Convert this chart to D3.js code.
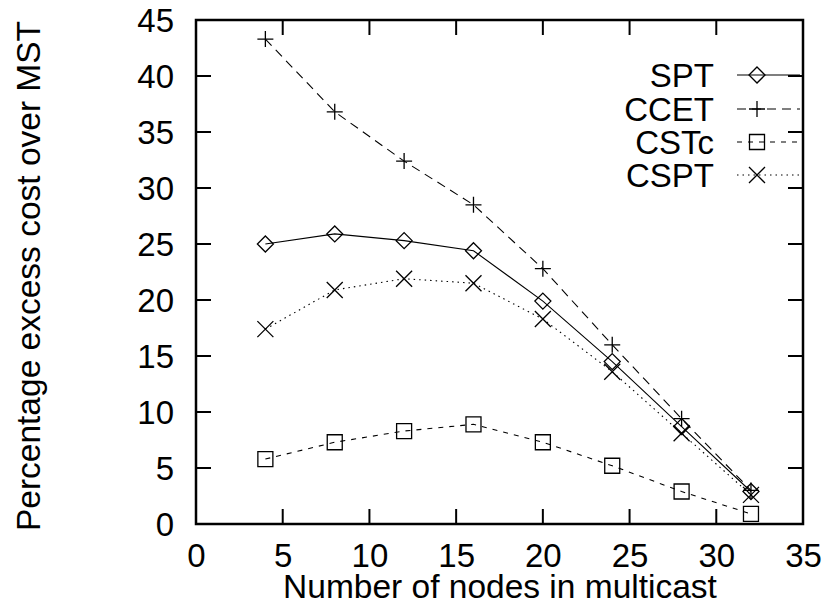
<!DOCTYPE html>
<html><head><meta charset="utf-8">
<script src="https://cdn.jsdelivr.net/npm/d3@7"></script>
<style>body{margin:0;background:#fff}svg{display:block}text{font-family:"Liberation Sans",Arial,sans-serif;fill:#000}</style>
</head><body><svg id="c" width="824" height="606"></svg>
<script>
const nodes = [4, 8, 12, 16, 20, 24, 28, 32];
const spt  = [25.0, 25.9, 25.3, 24.4, 19.9, 14.5, 8.7, 2.9];
const ccet = [43.3, 36.8, 32.4, 28.5, 22.8, 16.0, 9.4, 3.0];
const cstc = [5.8, 7.3, 8.3, 8.9, 7.3, 5.2, 2.9, 0.9];
const cspt = [17.4, 20.9, 21.9, 21.5, 18.3, 13.6, 8.1, 2.6];
const seriesNames = ["SPT", "CCET", "CSTc", "CSPT"];
const xTicks = [0, 5, 10, 15, 20, 25, 30, 35];
const yTicks = [0, 5, 10, 15, 20, 25, 30, 35, 40, 45];

const svg = d3.select("#c");
const L = 196, R = 803, T = 20, B = 524;
const x = d3.scaleLinear().domain([0, 35]).range([L, R]);
const y = d3.scaleLinear().domain([0, 45]).range([B, T]);
const FS = 33, TL = 15;

const styles = [
  {data: spt,  dash: null,  marker: "diamond"},
  {data: ccet, dash: "9,6", marker: "plus"},
  {data: cstc, dash: "5,6", marker: "square"},
  {data: cspt, dash: "1.5,4", marker: "cross"}
];

function marker(g, type, cx, cy) {
  const p = d3.path();
  if (type === "diamond") { const s = 8; p.moveTo(cx, cy - s); p.lineTo(cx + s, cy); p.lineTo(cx, cy + s); p.lineTo(cx - s, cy); p.closePath(); }
  if (type === "plus") { const s = 8; p.moveTo(cx - s, cy); p.lineTo(cx + s, cy); p.moveTo(cx, cy - s); p.lineTo(cx, cy + s); }
  if (type === "square") { const s = 7.5; p.rect(cx - s, cy - s, 2 * s, 2 * s); }
  if (type === "cross") { const s = 8; p.moveTo(cx - s, cy - s); p.lineTo(cx + s, cy + s); p.moveTo(cx + s, cy - s); p.lineTo(cx - s, cy + s); }
  g.append("path").attr("d", p.toString()).attr("fill", "none").attr("stroke", "#000").attr("stroke-width", 1.3);
}

// axes with ticks on all sides
const axB = d3.axisBottom(x).tickValues(xTicks).tickSize(0).tickPadding(0);
const gB = svg.append("g").attr("transform", `translate(0,${B})`).call(axB);
const axL = d3.axisLeft(y).tickValues(yTicks).tickSize(0).tickPadding(22);
const gL = svg.append("g").attr("transform", `translate(${L},0)`).call(axL);
[gB, gL].forEach(g => { g.select(".domain").remove(); g.selectAll("text").attr("font-size", FS).attr("font-family", "Liberation Sans, Arial, sans-serif").attr("fill", "#000"); });
gB.selectAll("text").attr("y", 43).attr("dy", null);
gL.selectAll("text").attr("dy", "0.36em");

const tg = svg.append("g").attr("stroke", "#000").attr("stroke-width", 2);
xTicks.slice(1, -1).forEach(v => {
  tg.append("line").attr("x1", x(v)).attr("x2", x(v)).attr("y1", B).attr("y2", B - TL);
  tg.append("line").attr("x1", x(v)).attr("x2", x(v)).attr("y1", T).attr("y2", T + TL);
});
yTicks.slice(1, -1).forEach(v => {
  tg.append("line").attr("x1", L).attr("x2", L + TL).attr("y1", y(v)).attr("y2", y(v));
  tg.append("line").attr("x1", R).attr("x2", R - TL).attr("y1", y(v)).attr("y2", y(v));
});

// series
const line = d3.line().x((d, i) => x(nodes[i])).y(d => y(d));
styles.forEach(s => {
  svg.append("path").attr("d", line(s.data)).attr("fill", "none").attr("stroke", "#000").attr("stroke-width", 1.1)
    .attr("stroke-dasharray", s.dash);
  const g = svg.append("g");
  s.data.forEach((d, i) => marker(g, s.marker, x(nodes[i]), y(d)));
});

// frame
svg.append("rect").attr("x", L).attr("y", T).attr("width", R - L).attr("height", B - T)
  .attr("fill", "none").attr("stroke", "#000").attr("stroke-width", 2.5);

// legend
const legY = [75, 109, 142, 175];
styles.forEach((s, i) => {
  const ly = legY[i];
  svg.append("text").attr("x", 714).attr("y", ly).attr("dy", "0.36em").attr("text-anchor", "end").attr("font-size", FS).text(seriesNames[i]);
  svg.append("line").attr("x1", 737).attr("x2", 800).attr("y1", ly).attr("y2", ly).attr("stroke", "#000").attr("stroke-width", 1.1).attr("stroke-dasharray", s.dash);
  marker(svg, s.marker, 757, ly);
});

// axis titles
svg.append("text").attr("x", 500).attr("y", 598).attr("text-anchor", "middle").attr("font-size", 33.5).text("Number of nodes in multicast");
svg.append("text").attr("transform", `translate(40,276) rotate(-90)`).attr("text-anchor", "middle").attr("font-size", 33.5).text("Percentage excess cost over MST");
</script></body></html>
